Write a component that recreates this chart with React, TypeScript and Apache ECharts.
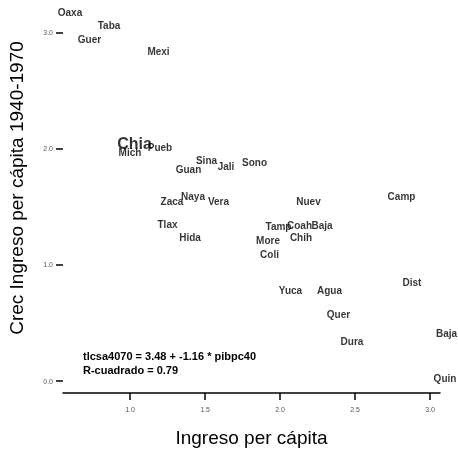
import React, { useEffect, useRef } from "react";
import * as echarts from "echarts";

const states = [
  "Oaxa", "Taba", "Guer", "Mexi", "Chia", "Mich", "Pueb", "Guan", "Sina", "Jali", "Sono",
  "Zaca", "Naya", "Vera", "Nuev", "Camp", "Tlax", "Hida", "Tamp", "Coah", "Baja", "Chih",
  "More", "Coli", "Yuca", "Agua", "Dist", "Quer", "Dura", "Baja", "Quin",
];
const ingreso = [
  0.6, 0.86, 0.73, 1.19, 1.03, 1.0, 1.2, 1.39, 1.51, 1.64, 1.83,
  1.28, 1.42, 1.59, 2.19, 2.81, 1.25, 1.4, 1.99, 2.13, 2.28, 2.14,
  1.92, 1.93, 2.07, 2.33, 2.88, 2.39, 2.48, 3.11, 3.1,
];
const crec = [
  3.18, 3.06, 2.94, 2.84, 2.05, 1.97, 2.01, 1.82, 1.9, 1.85, 1.88,
  1.55, 1.59, 1.55, 1.55, 1.59, 1.35, 1.24, 1.33, 1.34, 1.34, 1.24,
  1.21, 1.09, 0.78, 0.78, 0.85, 0.57, 0.34, 0.41, 0.02,
];
const highlighted = ["Chia"];
const xTicks = [1.0, 1.5, 2.0, 2.5, 3.0];
const yTicks = [0, 1, 2, 3];
const equationText = "tlcsa4070 = 3.48 + -1.16 * pibpc40";
const r2Text = "R-cuadrado = 0.79";
const xTitle = "Ingreso per cápita";
const yTitle = "Crec Ingreso per cápita 1940-1970";

const FONT = "Liberation Sans, Arial, sans-serif";

export default function App() {
  const ref = useRef<HTMLDivElement>(null);
  useEffect(() => {
    document.body.style.margin = "0";
    const chart = echarts.init(ref.current!, undefined, { renderer: "svg" });
    const data = states.map((s, i) => {
      const item: any = { name: s, value: [ingreso[i], crec[i]] };
      if (highlighted.includes(s)) {
        item.label = { fontSize: 16, fontWeight: "bold" };
      }
      return item;
    });
    chart.setOption({
      animation: false,
      textStyle: { fontFamily: FONT },
      grid: { left: 63, right: 18, top: 5, bottom: 59 },
      xAxis: {
        type: "value",
        min: 0.5533,
        max: 3.0667,
        name: xTitle,
        nameLocation: "middle",
        nameGap: 35,
        nameTextStyle: { fontSize: 19, color: "#000", fontFamily: FONT },
        axisLine: { show: true, onZero: false, lineStyle: { color: "#000", width: 1.5 } },
        axisTick: { show: true, customValues: xTicks, length: 7, lineStyle: { color: "#000", width: 1.5 } },
        axisLabel: {
          customValues: xTicks,
          fontSize: 7,
          color: "#555",
          margin: 13,
          formatter: (v: number) => v.toFixed(1),
        },
        splitLine: { show: false },
      },
      yAxis: {
        type: "value",
        min: -0.1034,
        max: 3.241,
        axisLine: { show: false },
        axisTick: { show: true, customValues: yTicks, length: 7, lineStyle: { color: "#000", width: 1.5 } },
        axisLabel: {
          customValues: yTicks,
          fontSize: 7,
          color: "#555",
          margin: 10,
          formatter: (v: number) => v.toFixed(1),
        },
        splitLine: { show: false },
      },
      graphic: [
        {
          type: "text",
          x: 16,
          y: 188,
          rotation: Math.PI / 2,
          style: {
            text: yTitle,
            fontSize: 19,
            fontFamily: FONT,
            fill: "#000",
            align: "center",
            verticalAlign: "middle",
          },
        },
        {
          type: "text",
          x: 83,
          y: 350,
          style: { text: equationText, fontSize: 11, fontWeight: "bold", fontFamily: FONT, fill: "#000" },
        },
        {
          type: "text",
          x: 83,
          y: 364,
          style: { text: r2Text, fontSize: 11, fontWeight: "bold", fontFamily: FONT, fill: "#000" },
        },
      ],
      series: [
        {
          type: "scatter",
          clip: false,
          symbolSize: 1,
          itemStyle: { color: "rgba(0,0,0,0)" },
          data,
          label: {
            show: true,
            position: "inside",
            formatter: (p: any) => p.name,
            fontSize: 10,
            fontWeight: "bold",
            color: "#000",
            fontFamily: FONT,
          },
          labelLayout: { hideOverlap: false },
        },
      ],
    });
    return () => chart.dispose();
  }, []);
  return (
    <div
      ref={ref}
      style={{ position: "fixed", left: 0, top: 0, width: 458, height: 452 }}
    />
  );
}
